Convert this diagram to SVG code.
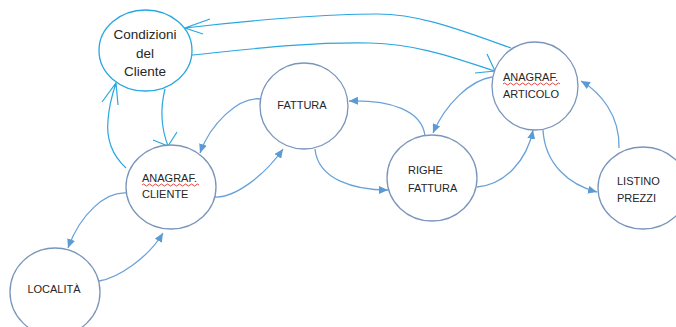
<svg xmlns="http://www.w3.org/2000/svg" width="676" height="327" viewBox="0 0 676 327">
  <style>
    .node { fill: #ffffff; stroke: #7a95bb; stroke-width: 1.3; }
    .cond { fill: #ffffff; stroke: #2aa7e0; stroke-width: 1.3; }
    .lbl { font-family: "Liberation Sans", Arial, sans-serif; font-size: 11px; fill: #262626; }
    .lblc { font-family: "Liberation Sans", Arial, sans-serif; font-size: 13.5px; fill: #262626; text-anchor: middle; }
    .link { fill: none; stroke: #6aa2d8; stroke-width: 1.3; marker-end: url(#tri); }
    .clink { fill: none; stroke: #2aa7e0; stroke-width: 1.2; }
    .spell { fill: none; stroke: #e0302a; stroke-width: 0.9; }
  </style>
  <defs>
    <marker id="tri" markerUnits="userSpaceOnUse" markerWidth="10" markerHeight="8" refX="9" refY="4" orient="auto">
      <path d="M0,0 L9,4 L0,8 z" fill="#5b9bd5"/>
    </marker>
  </defs>

  <rect width="676" height="327" fill="#ffffff"/>

  <g id="connectors">
    <!-- Anagraf. Cliente <-> Località -->
    <path class="link" d="M127,193 C105,191 80,215 68,248"/>
    <path class="link" d="M99,281 C118,278 148,258 163,233"/>
    <!-- Fattura <-> Anagraf. Cliente -->
    <path class="link" d="M261,99 C238,96 210,125 200,153"/>
    <path class="link" d="M215,197 C235,198 265,175 283,149"/>
    <!-- Fattura <-> Righe Fattura -->
    <path class="link" d="M315,149 C318,180 355,190 388,190"/>
    <path class="link" d="M425,136 C422,110 390,100 349,101"/>
    <!-- Anagraf. Articolo <-> Righe Fattura -->
    <path class="link" d="M492,77 C470,80 445,105 433,133"/>
    <path class="link" d="M477,187 C505,185 527,160 533,130"/>
    <!-- Anagraf. Articolo <-> Listino Prezzi -->
    <path class="link" d="M543,130 C545,165 570,185 597,192"/>
    <path class="link" d="M619,148 C620,115 600,92 581,81"/>

    <!-- Condizioni del Cliente links, open arrow wings drawn with the shaft -->
    <path class="clink" d="M511,48 C460,30 420,14 377,14 C330,14 250,20 185,28 M210,19 L185,28 L203,34"/>
    <path class="clink" d="M192,55 C260,48 310,42 370,43 C420,44 460,60 495,71 M487,54 L495,71 L475,73"/>
    <path class="clink" d="M126,168 C112,155 106,140 108,120 C109,105 113,92 116,83 M102,102 L116,83 L118,105"/>
    <path class="clink" d="M165,89 C161,105 160,125 168,146 M153,140 L168,146 L177,132"/>
  </g>

  <g id="condizioni">
    <ellipse class="cond" cx="145.5" cy="50.5" rx="46.5" ry="40.5"/>
    <text class="lblc" x="145" y="39">Condizioni</text>
    <text class="lblc" x="145" y="58">del</text>
    <text class="lblc" x="145" y="76">Cliente</text>
  </g>

  <g id="anagraf-cliente">
    <ellipse class="node" cx="171" cy="187" rx="45" ry="42"/>
    <text class="lbl" x="142" y="182">ANAGRAF.</text>
    <path class="spell" d="M142,185 q1.5,-2 3,0 t3,0 t3,0 t3,0 t3,0 t3,0 t3,0 t3,0 t3,0 t3,0 t3,0 t3,0 t3,0 t3,0 t3,0 t3,0 t3,0 t3,0 t3,0"/>
    <text class="lbl" x="142" y="198">CLIENTE</text>
  </g>

  <g id="localita">
    <ellipse class="node" cx="55" cy="292" rx="45" ry="44"/>
    <text class="lbl" x="54" y="293" text-anchor="middle">LOCALITÀ</text>
  </g>

  <g id="fattura">
    <ellipse class="node" cx="304" cy="106" rx="44" ry="43"/>
    <text class="lbl" x="302" y="109" text-anchor="middle">FATTURA</text>
  </g>

  <g id="righe-fattura">
    <ellipse class="node" cx="432" cy="178" rx="45" ry="43"/>
    <text class="lbl" x="408" y="174">RIGHE</text>
    <text class="lbl" x="408" y="192">FATTURA</text>
  </g>

  <g id="anagraf-articolo">
    <ellipse class="node" cx="535" cy="86" rx="43" ry="44"/>
    <text class="lbl" x="503" y="81">ANAGRAF.</text>
    <path class="spell" d="M503,84 q1.5,-2 3,0 t3,0 t3,0 t3,0 t3,0 t3,0 t3,0 t3,0 t3,0 t3,0 t3,0 t3,0 t3,0 t3,0 t3,0 t3,0 t3,0 t3,0 t3,0"/>
    <text class="lbl" x="503" y="98">ARTICOLO</text>
  </g>

  <g id="listino-prezzi">
    <ellipse class="node" cx="643" cy="188" rx="45" ry="41"/>
    <text class="lbl" x="617" y="185">LISTINO</text>
    <text class="lbl" x="617" y="202">PREZZI</text>
  </g>
</svg>
